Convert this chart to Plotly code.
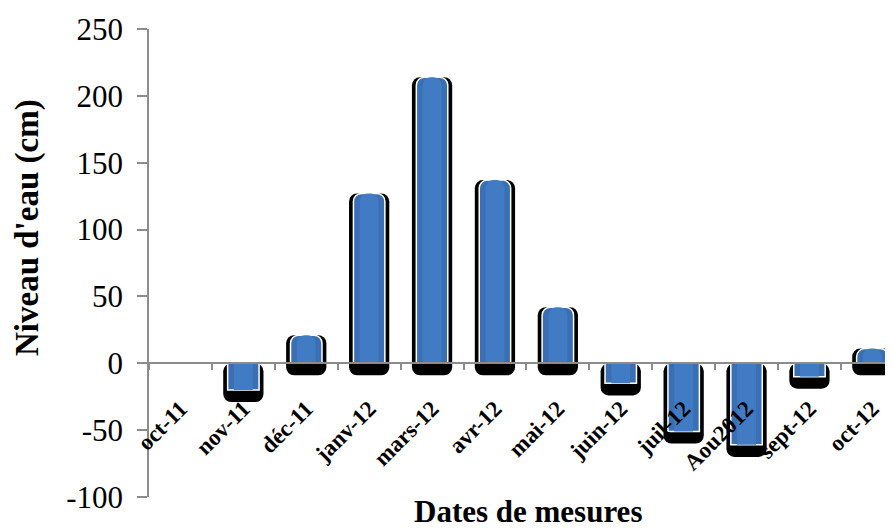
import plotly.graph_objects as go

categories = ["oct-11", "nov-11", "déc-11", "janv-12", "mars-12", "avr-12",
              "mai-12", "juin-12", "juil-12", "Aou2012", "sept-12", "oct-12"]
niveau = [0, -20, 21, 127, 214, 137, 42, -15, -51, -61, -10, 11]
y_ticks = [-100, -50, 0, 50, 100, 150, 200, 250]
y_tick_labels = ["-100", "-50", "0", "50", "100", "150", "200", "250"]

# the page adds an 8px body margin; lay out in window pixels and compensate
OFF = 8
WIN_W, WIN_H = 893, 531
W, H = WIN_W - OFF, WIN_H - OFF
PX_L, PX_T, PX_B = 149, 29, 497          # plot area edges in window pixels
ml, mt, mr = PX_L - OFF, PX_T - OFF, 0
mb = WIN_H - PX_B
plot_w = WIN_W - PX_L
plot_h = PX_B - PX_T
ymin, ymax = -100, 250

SHADOW_DROP = 9  # data units the shadow extends below the bar

shadow_base = [min(v, 0) - SHADOW_DROP if v != 0 else None for v in niveau]
shadow_len = [abs(v) + SHADOW_DROP if v != 0 else None for v in niveau]

fig = go.Figure()
fig.add_trace(go.Bar(
    x=categories, y=shadow_len, base=shadow_base,
    width=0.64, marker=dict(color="black", line=dict(width=0)),
    hoverinfo="skip", showlegend=False,
))
fig.add_trace(go.Bar(
    x=categories, y=niveau,
    width=0.5, marker=dict(color="#3a6fb4", line=dict(color="white", width=1.5)),
    showlegend=False,
))
fig.add_trace(go.Bar(
    x=categories, y=niveau,
    width=0.3, marker=dict(color="#417bc4", line=dict(width=0)),
    hoverinfo="skip", showlegend=False,
))

zero_pos = (0 - ymin) / (ymax - ymin)

fig.update_layout(
    width=W, height=H,
    margin=dict(l=ml, r=mr, t=mt, b=mb),
    paper_bgcolor="white", plot_bgcolor="white",
    barmode="overlay",
    barcornerradius=8,
    font=dict(family="Liberation Serif", color="black"),
    xaxis=dict(
        range=[-0.5, -0.5 + plot_w / 62.9], anchor="free", position=zero_pos,
        showline=True, linecolor="#8c8c8c", linewidth=1.5,
        ticks="outside", tickson="boundaries", ticklen=6, tickcolor="#8c8c8c", tickwidth=1.5,
        tickangle=-45, ticklabelstandoff=22,
        tickfont=dict(family="Liberation Serif", size=23, color="black", weight="bold"),
        showgrid=False, zeroline=False,
    ),
    yaxis=dict(
        range=[ymin, ymax], tickvals=y_ticks, ticktext=y_tick_labels,
        showline=True, linecolor="#8c8c8c", linewidth=1.5,
        ticks="outside", ticklen=10, tickcolor="#8c8c8c", tickwidth=1.5,
        ticklabelstandoff=8,
        tickfont=dict(family="Liberation Serif", size=31, color="black"),
        showgrid=False, zeroline=False,
    ),
    annotations=[
        dict(text="<b>Niveau d'eau (cm)</b>", textangle=-90,
             xref="paper", yref="paper", x=(27 - PX_L) / plot_w, y=(PX_B - 228) / plot_h,
             xanchor="center", yanchor="middle", showarrow=False,
             font=dict(family="Liberation Serif", size=33, color="black")),
        dict(text="<b>Dates de mesures</b>",
             xref="paper", yref="paper", x=(528 - PX_L) / plot_w, y=(PX_B - 512) / plot_h,
             xanchor="center", yanchor="middle", showarrow=False,
             font=dict(family="Liberation Serif", size=31, color="black")),
    ],
)

fig.write_html("out.html")
